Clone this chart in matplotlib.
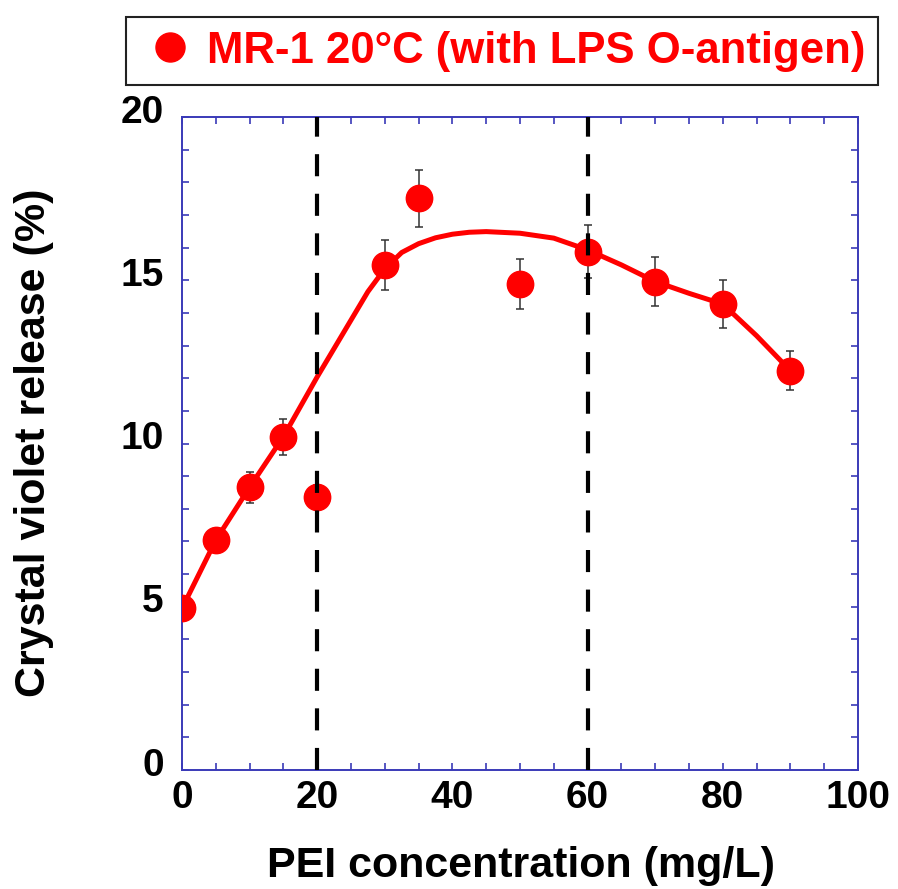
import numpy as np
import matplotlib
matplotlib.use("Agg")
import matplotlib.pyplot as plt
from matplotlib.ticker import MultipleLocator
import matplotlib.transforms as mtransforms

plt.rcParams['font.family'] = ['Liberation Sans', 'DejaVu Sans']
plt.rcParams['font.weight'] = 'bold'

# measured points
pei = [0, 5, 10, 15, 20, 30, 35, 50, 60, 70, 80, 90]
release = [4.95, 7.04, 8.66, 10.21, 8.37, 15.47, 17.51, 14.88, 15.88, 14.96, 14.27, 12.23]
err = [0.3, 0.35, 0.48, 0.55, 0.35, 0.77, 0.87, 0.76, 0.8, 0.76, 0.73, 0.6]

# fitted curve
curve_x = [0, 5, 10, 15, 20, 25, 27.5, 30, 32.5, 35, 37.5, 40, 42.5, 45, 50, 55, 60,
           65, 70, 75, 80, 85, 90]
curve_y = [4.95, 7.04, 8.66, 10.21, 12.04, 13.78, 14.65, 15.35, 15.85, 16.12, 16.3,
           16.41, 16.47, 16.49, 16.44, 16.29, 15.93, 15.47, 14.96, 14.6, 14.27, 13.3, 12.23]

vlines = [20, 60]

fig = plt.figure(figsize=(8.98, 8.89), dpi=100)
ax = fig.add_axes([182/898, 1-770/889, 676/898, 653/889])

blue = '#3a3ab8'
red = '#ff0000'

ax.plot(curve_x, curve_y, color=red, lw=3.6, solid_capstyle='round',
        solid_joinstyle='round', zorder=2)
ax.errorbar(pei, release, yerr=err, fmt='none', ecolor='#333333', elinewidth=1.1,
            capsize=3, capthick=1.1, zorder=3)
ax.plot(pei, release, 'o', color=red, ms=19, zorder=4, label='MR-1 20\u00b0C (with LPS O-antigen)')

for v in vlines:
    ax.axvline(v, color='black', lw=3, ls=(0, (5.3, 4.2)), zorder=5)

ax.set_xlim(0, 100)
ax.set_ylim(0, 20)
ax.xaxis.set_major_locator(MultipleLocator(20))
ax.xaxis.set_minor_locator(MultipleLocator(5))
ax.yaxis.set_major_locator(MultipleLocator(5))
ax.yaxis.set_minor_locator(MultipleLocator(1))

for s in ax.spines.values():
    s.set_color(blue)
    s.set_linewidth(1.4)

ax.tick_params(which='both', direction='in', top=True, right=True, color=blue,
               width=1.2, length=5)
ax.tick_params(axis='x', which='major', pad=7, labelsize=28)
ax.tick_params(axis='y', which='major', pad=13, labelsize=28)

# y tick labels sit a bit above their ticks in the original
off = mtransforms.ScaledTranslation(0, 6/72, fig.dpi_scale_trans)
for lab in ax.get_yticklabels():
    lab.set_transform(lab.get_transform() + off)

fig.text(521/898, 1-866/889, 'PEI concentration (mg/L)', ha='center', va='center',
         fontsize=31, fontweight='bold')
fig.text(34/898, 1-443/889, 'Crystal violet release (%)', ha='center', va='center',
         rotation=90, fontsize=31, fontweight='bold')

leg = fig.legend(loc='center', bbox_to_anchor=(502/898, 1-51/889), frameon=True,
                 fancybox=False, edgecolor='#222222', framealpha=1, labelcolor=red,
                 prop={'size': 31.5, 'weight': 'bold'}, handlelength=1.4,
                 handletextpad=0.15, borderpad=0.3, borderaxespad=0, markerscale=1.1)
leg.get_frame().set_linewidth(1.5)

fig.savefig('out.png', dpi=100)
